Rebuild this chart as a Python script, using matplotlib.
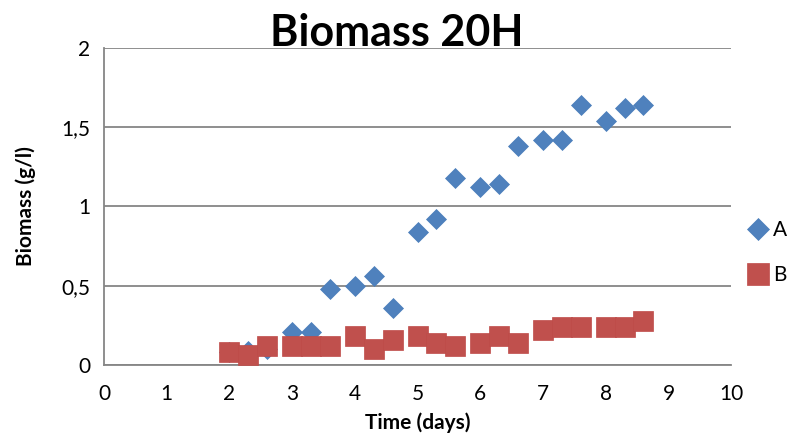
import matplotlib.pyplot as plt

plt.rcParams['font.family'] = ['Lato', 'DejaVu Sans']

# Sampling times (days)
time_days = [2, 2.3, 2.6, 3, 3.3, 3.6, 4, 4.3, 4.6, 5, 5.3, 5.6, 6, 6.3, 6.6,
             7, 7.3, 7.6, 8, 8.3, 8.6]

# Biomass (g/l) for the two cultures
biomass_a = [0.08, 0.09, 0.10, 0.21, 0.21, 0.48, 0.50, 0.56, 0.36, 0.84, 0.92,
             1.18, 1.12, 1.14, 1.38, 1.42, 1.42, 1.64, 1.54, 1.62, 1.64]
biomass_b = [0.08, 0.06, 0.12, 0.12, 0.12, 0.12, 0.18, 0.10, 0.16, 0.18, 0.14,
             0.12, 0.14, 0.18, 0.14, 0.22, 0.24, 0.24, 0.24, 0.24, 0.28]

x_ticks = list(range(0, 11))
y_ticks = [0, 0.5, 1, 1.5, 2]
y_labels = ['0', '0,5', '1', '1,5', '2']

fig = plt.figure(figsize=(7.88, 4.37), dpi=100)
ax = fig.add_axes([0.132, 0.165, 0.796, 0.725])

ax.plot(time_days, biomass_a, linestyle='none', marker='D', markersize=10.5,
        color='#4F81BD', markeredgecolor='#4A7EBB', markeredgewidth=0.5,
        label='A', zorder=3)
ax.plot(time_days, biomass_b, linestyle='none', marker='s', markersize=14.5,
        color='#C0504D', markeredgecolor='#BE4B48', markeredgewidth=0.5,
        label='B', zorder=4)

ax.set_xlim(0, 10)
ax.set_ylim(0, 2)
ax.set_xticks(x_ticks)
ax.set_yticks(y_ticks)
ax.set_yticklabels(y_labels)
ax.tick_params(length=0, labelsize=15, pad=14)
ax.tick_params(axis='y', pad=10)
ax.yaxis.grid(True, color='#868686', linewidth=1.3)
ax.set_axisbelow(True)

for side in ('top', 'right'):
    ax.spines[side].set_visible(False)
for side in ('left', 'bottom'):
    ax.spines[side].set_color('#868686')
    ax.spines[side].set_linewidth(1.3)

fig.text(0.503, 0.97, 'Biomass 20H', fontsize=31, fontweight='bold',
         ha='center', va='top')
ax.set_xlabel('Time (days)', fontsize=15, fontweight='bold')
ax.xaxis.set_label_coords(0.5, -0.15)
ax.set_ylabel('Biomass (g/l)', fontsize=15, fontweight='bold')
ax.yaxis.set_label_coords(-0.108, 0.5)

ax.legend(loc='center left', bbox_to_anchor=(1.0, 0.355), frameon=False,
          fontsize=15, handletextpad=0.2, labelspacing=1.2, borderaxespad=0.4,
          handlelength=1.0, markerscale=1.1)

fig.savefig('out.png', dpi=100)
